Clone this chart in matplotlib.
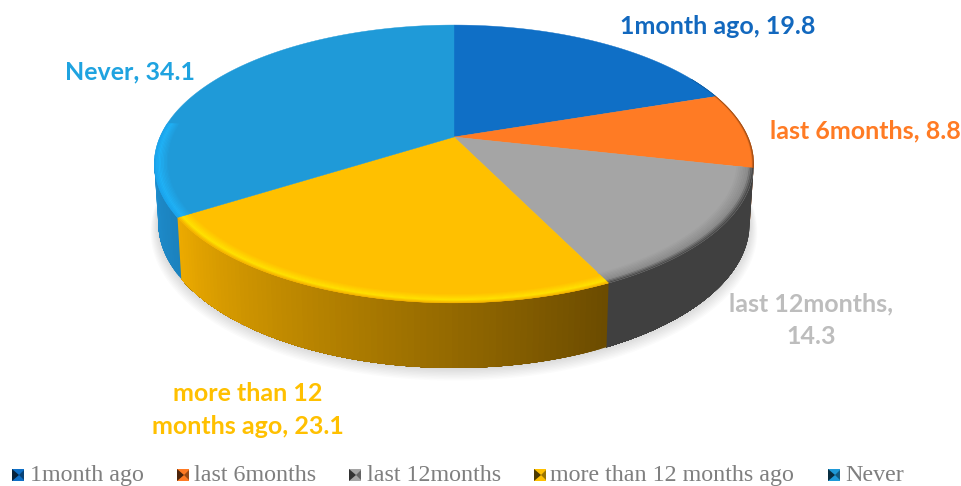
import numpy as np
import matplotlib
matplotlib.use('Agg')
import matplotlib.pyplot as plt
import matplotlib.colors as mc
from matplotlib.patches import Polygon, Rectangle

categories = ['1month ago', 'last 6months', 'last 12months', 'more than 12 months ago', 'Never']
values = [19.8, 8.8, 14.3, 23.1, 34.1]
slice_labels = ['1month ago, 19.8', 'last 6months, 8.8', 'last 12months,\n14.3',
                'more than 12\nmonths ago, 23.1', 'Never, 34.1']
top_colors = ['#0F6FC6', '#FF7B24', '#A5A5A5', '#FFC000', '#1F9AD8']
wall_left = ['#0B5596', '#C0560F', '#404040', '#EDAB00', '#1F8FD0']
wall_right = ['#0B5596', '#C0560F', '#404040', '#6B4B00', '#1B82BE']
rim_edge = ['#0B5596', '#8A4210', '#4A4A4A', '#F5B400', '#1AA5EE']
rim_mid = ['#0F6FC6', '#FF7B24', '#8A8A8A', '#FFE400', '#1FB2F7']
label_colors = ['#1268BE', '#FF7B24', '#BDBDBD', '#FFC000', '#1FA3E0']
label_xy = [(718, 26), (865, 131), (811, 320), (248, 410), (130, 72)]
legend_x = [12, 177, 349, 534, 828]
legend_text_x = [30, 194, 367, 550, 845]

# perspective of the pie, pixels
CX, TOP_Y, BOT_Y = 454, 137, 195
PERSP = 0.194
RX_TOP, RX_BOT = 294, 290
AY_TOP, AY_BOT = -107.1, -101.6


def project(theta, r, ay, by, rx):
    u = r * np.sin(theta)
    v = r * np.cos(theta)
    w = 1 + PERSP * v
    return CX + rx * u / w, (ay * v + by) / w


def top_pt(theta, r=1.0):
    return project(theta, r, AY_TOP, TOP_Y, RX_TOP)


def bot_pt(theta, r=1.0):
    return project(theta, r, AY_BOT, BOT_Y, RX_BOT)


def blend(a, b, t):
    a, b = np.array(mc.to_rgb(a)), np.array(mc.to_rgb(b))
    return tuple(a + (b - a) * t)


fig = plt.figure(figsize=(9.61, 4.86), dpi=100)
ax = fig.add_axes([0, 0, 1, 1])
ax.set_xlim(0, 961)
ax.set_ylim(486, 0)
ax.axis('off')

# soft shadow under the pie
all_t = np.linspace(0, 2 * np.pi, 240)
for i in range(10):
    sx, sy = bot_pt(all_t, 1.0 + 0.0028 * i)
    ax.add_patch(Polygon(np.c_[sx, sy + 0.8 * i], closed=True, fc='k', ec='none',
                         alpha=0.014, zorder=1))

frac = np.array(values) / np.sum(values)
edges = np.concatenate([[0], np.cumsum(frac)]) * 2 * np.pi
VIS_A, VIS_B = np.radians(100), np.radians(261)

# side wall, strips painted over each other from the far end so no seams show
for i in range(len(values)):
    a, b = max(edges[i], VIS_A), min(edges[i + 1], VIS_B)
    if b <= a:
        continue
    n = max(2, int(np.degrees(b - a)))
    ts = np.linspace(a, b, n + 1)
    for k in range(n):
        col = blend(wall_right[i], wall_left[i], (k + 0.5) / n)
        t2 = np.linspace(ts[k], b, 2 + n - k)
        x1, y1 = top_pt(t2)
        x2, y2 = bot_pt(t2[::-1])
        ax.add_patch(Polygon(np.c_[np.r_[x1, x2], np.r_[y1, y2]], closed=True, fc=col,
                             ec='none', zorder=2 + i * 0.01))

# top slices
for i in range(len(values)):
    ts = np.linspace(edges[i], edges[i + 1], 120)
    x, y = top_pt(ts)
    ax.add_patch(Polygon(np.c_[np.r_[CX, x], np.r_[TOP_Y, y]], closed=True,
                         fc=top_colors[i], ec=top_colors[i], lw=0.3, zorder=3))

# bevel along the rim
rim_depth = [0.02, 0.025, 0.06, 0.05, 0.05]
for i in range(len(values)):
    a, b = max(edges[i], np.radians(62)), min(edges[i + 1], np.radians(276))
    if b <= a:
        continue
    ts = np.linspace(a, b, 100)
    rs = np.linspace(1.0, 1.0 - rim_depth[i], 12)
    for k in range(len(rs) - 1):
        t = k / (len(rs) - 2)
        if t < 0.3:
            col = blend(rim_edge[i], rim_mid[i], t / 0.3)
        else:
            col = blend(rim_mid[i], top_colors[i], (t - 0.3) / 0.7)
        x1, y1 = top_pt(ts, rs[k])
        x2, y2 = top_pt(ts[::-1], rs[k + 1])
        ax.add_patch(Polygon(np.c_[np.r_[x1, x2], np.r_[y1, y2]], closed=True, fc=col,
                             ec=col, lw=0.2, zorder=4))

# slice labels
for i in range(len(values)):
    ax.text(label_xy[i][0], label_xy[i][1], slice_labels[i], color=label_colors[i],
            family='Lato', weight='bold', fontsize=18, ha='center', va='center',
            linespacing=1.5, zorder=6)

# legend at the bottom
for i in range(len(categories)):
    lx = legend_x[i]
    ly = 469
    dark = blend(top_colors[i], '#000000', 0.7)
    mid = blend(top_colors[i], '#000000', 0.4)
    ax.add_patch(Rectangle((lx, ly), 12, 12, fc=top_colors[i], ec='none', zorder=5))
    ax.add_patch(Polygon([[lx, ly], [lx + 7, ly + 6], [lx, ly + 12]], closed=True,
                         fc=dark, ec='none', zorder=6))
    ax.add_patch(Polygon([[lx + 12, ly + 1], [lx + 7, ly + 6], [lx + 12, ly + 11]], closed=True,
                         fc=mid, ec='none', zorder=6))
    ax.text(legend_text_x[i], 475.5, categories[i], color='#7F7F7F', family='Liberation Serif',
            fontsize=17.3, ha='left', va='center', zorder=6)

fig.savefig('out.png', dpi=100)
